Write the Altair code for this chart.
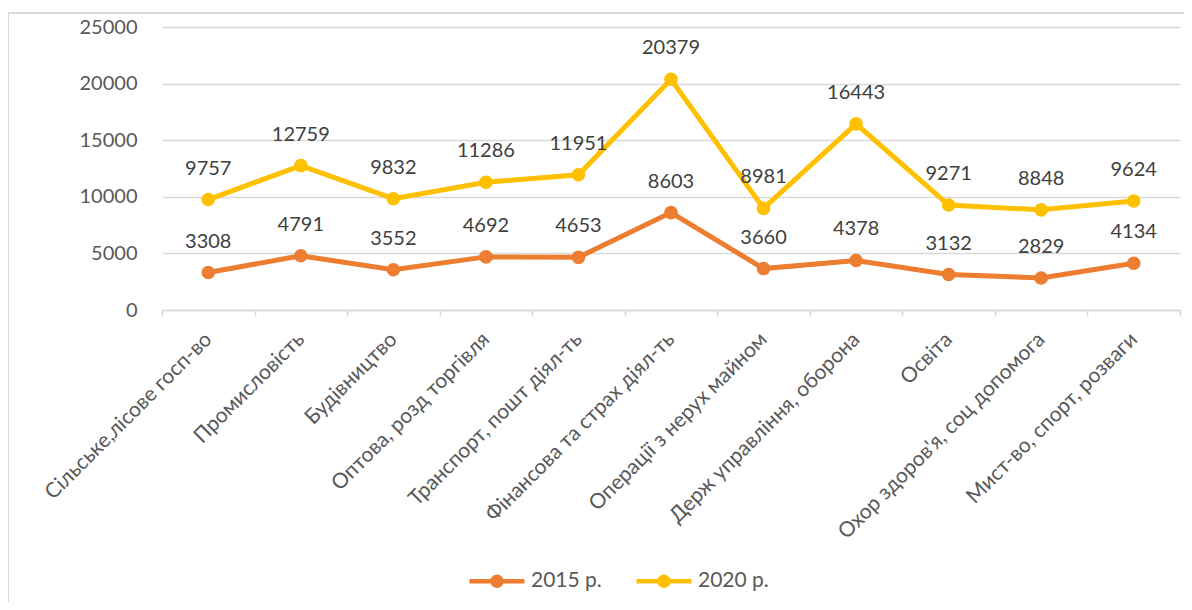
import altair as alt
import pandas as pd

categories = [
    "Сільське,лісове госп-во",
    "Промисловість",
    "Будівництво",
    "Оптова, розд торгівля",
    "Транспорт, пошт діял-ть",
    "Фінансова та страх діял-ть",
    "Операції з нерух майном",
    "Держ управління, оборона",
    "Освіта",
    "Охор  здоров'я, соц допомога",
    "Мист-во, спорт, розваги",
]
values_2015 = [3308, 4791, 3552, 4692, 4653, 8603, 3660, 4378, 3132, 2829, 4134]
values_2020 = [9757, 12759, 9832, 11286, 11951, 20379, 8981, 16443, 9271, 8848, 9624]
series_names = ["2015 р.", "2020 р."]
series_colors = ["#ED7D31", "#FFC000"]
y_ticks = [0, 5000, 10000, 15000, 20000, 25000]

rows = []
for name, vals in zip(series_names, [values_2015, values_2020]):
    for c, v in zip(categories, vals):
        rows.append({"cat": c, "value": v, "series": name})
df = pd.DataFrame(rows)

FONT = "Lato"

x_enc = alt.X(
    "cat:N",
    sort=categories,
    bandPosition=0.5,
    scale=alt.Scale(type="band", paddingInner=0, paddingOuter=0),
    axis=alt.Axis(
        title=None,
        labelAngle=-45,
        labelAlign="right",
        labelBaseline="middle",
        labelPadding=20,
        labelFontSize=21,
        labelColor="#595959",
        labelFont=FONT,
        tickBand="extent",
        ticks=True,
        tickSize=6,
        tickColor="#d9d9d9",
        tickWidth=1.5,
        domain=True,
        domainColor="#d9d9d9",
        domainWidth=1.5,
        grid=False,
        labelOverlap=False,
        labelLimit=400,
    ),
)
y_enc = alt.Y(
    "value:Q",
    scale=alt.Scale(domain=[0, 25000], nice=False),
    axis=alt.Axis(
        title=None,
        values=y_ticks,
        domain=False,
        ticks=False,
        grid=True,
        gridColor="#d9d9d9",
        gridWidth=1.5,
        labelPadding=25,
        labelFontSize=20,
        labelColor="#595959",
        labelFont=FONT,
        format="d",
    ),
)

legend_path = (
    "M-1,0H1"
    "M-0.164,0a0.164,0.164 0 1,0 0.328,0a0.164,0.164 0 1,0 -0.328,0"
    "M-0.09,0a0.09,0.09 0 1,0 0.18,0a0.09,0.09 0 1,0 -0.18,0"
    "M-0.02,0a0.02,0.02 0 1,0 0.04,0a0.02,0.02 0 1,0 -0.04,0"
)

color_scale = alt.Scale(domain=series_names, range=series_colors)

lines = alt.Chart(df).mark_line(strokeWidth=5).encode(
    x=x_enc,
    y=y_enc,
    color=alt.Color(
        "series:N",
        scale=color_scale,
        legend=alt.Legend(
            title=None,
            orient="none",
            direction="horizontal",
            legendX=305,
            legendY=524,
            symbolType=legend_path,
            symbolSize=3025,
            symbolStrokeWidth=4.5,
            labelFontSize=21,
            labelColor="#595959",
            labelFont=FONT,
            labelOffset=4,
            columnPadding=25,
        ),
    ),
)

points = alt.Chart(df).mark_point(filled=True, size=185, opacity=1).encode(
    x=x_enc,
    y=y_enc,
    color=alt.Color("series:N", scale=color_scale, legend=None),
)

labels = alt.Chart(df).mark_text(
    dy=-31, baseline="middle", align="center", fontSize=20, font=FONT, color="#404040"
).encode(
    x=x_enc,
    y=y_enc,
    text=alt.Text("value:Q", format="d"),
)

border = alt.Chart(df).mark_rule(color="#d9d9d9", strokeWidth=1.5, clip=False).encode(
    x=alt.value(-154), x2=alt.value(1030), y=alt.value(-14)
) + alt.Chart(df).mark_rule(color="#d9d9d9", strokeWidth=1.5, clip=False).encode(
    x=alt.value(-154), y=alt.value(-14), y2=alt.value(600)
)

chart = alt.layer(lines, points, labels, border).properties(
    width=1018,
    height=283,
    autosize=alt.AutoSizeParams(type="none"),
    padding={"left": 154, "top": 19, "right": 4, "bottom": 292},
).configure_view(stroke=None)

chart.save("out.html", embed_options={"renderer": "svg", "actions": False})
